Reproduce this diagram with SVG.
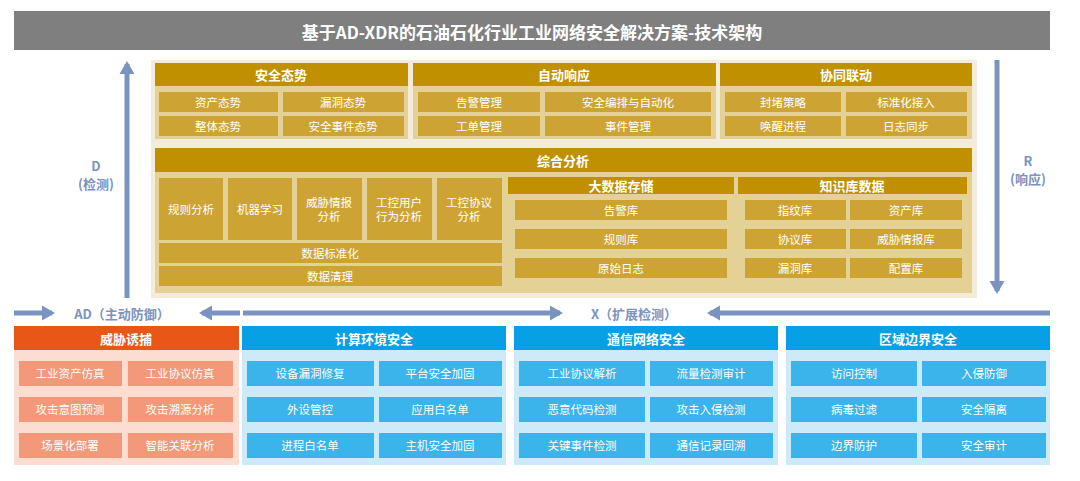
<svg xmlns="http://www.w3.org/2000/svg" width="1080" height="481" viewBox="0 0 1080 481">
<defs>
<style>
text{font-family:"Noto Sans CJK SC","Liberation Sans",sans-serif;text-anchor:middle;dominant-baseline:central;fill:#fff}
.h{fill:#c09000}.i{fill:#cda434}.s{fill:#e3d196}
.ht{font-size:13px;font-weight:bold}.it{font-size:11.5px}
.oh{fill:#e85618}.ob{fill:#fbddd2}.oi{fill:#f39878}
.bh{fill:#07a0e4}.bb{fill:#cdeaf9}.bi{fill:#3ab4ea}
.lab{fill:#7b93c0;font-size:13px;font-weight:bold}
.ar{stroke:#7b93c0;stroke-width:5;fill:none}
</style>
<marker id="a" markerWidth="4" markerHeight="4" refX="2" refY="2" orient="auto" markerUnits="strokeWidth"><path d="M0,0.5L2.6,2L0,3.5z" fill="#7b93c0"/></marker>
</defs>
<rect width="1080" height="481" fill="#fff"/>
<g id="title"><rect x="14" y="11" width="1036" height="39" fill="#7f7f7f"/><text x="532" y="31" style="font-size:17px;font-weight:bold">基于AD-XDR的石油石化行业工业网络安全解决方案-技术架构</text></g>
<rect x="151" y="60" width="826" height="238" fill="#f4ecdb"/>
<g id="aqts"><rect class="h" x="155" y="63" width="253" height="23"/><text class="ht" x="281" y="74">安全态势</text><rect class="s" x="155" y="86" width="253" height="53"/>
<rect class="i" x="159" y="92" width="119" height="20"/><text class="it" x="218" y="102">资产态势</text>
<rect class="i" x="283" y="92" width="121" height="20"/><text class="it" x="343" y="102">漏洞态势</text>
<rect class="i" x="159" y="116" width="119" height="20"/><text class="it" x="218" y="126">整体态势</text>
<rect class="i" x="283" y="116" width="121" height="20"/><text class="it" x="343" y="126">安全事件态势</text></g>
<g id="zdxy"><rect class="h" x="413" y="63" width="303" height="23"/><text class="ht" x="564" y="74">自动响应</text><rect class="s" x="413" y="86" width="303" height="53"/>
<rect class="i" x="418" y="92" width="122" height="20"/><text class="it" x="479" y="102">告警管理</text>
<rect class="i" x="545" y="92" width="166" height="20"/><text class="it" x="628" y="102">安全编排与自动化</text>
<rect class="i" x="418" y="116" width="122" height="20"/><text class="it" x="479" y="126">工单管理</text>
<rect class="i" x="545" y="116" width="166" height="20"/><text class="it" x="628" y="126">事件管理</text></g>
<g id="xtld"><rect class="h" x="720" y="63" width="252" height="23"/><text class="ht" x="846" y="74">协同联动</text><rect class="s" x="720" y="86" width="252" height="53"/>
<rect class="i" x="725" y="92" width="116" height="20"/><text class="it" x="783" y="102">封堵策略</text>
<rect class="i" x="846" y="92" width="121" height="20"/><text class="it" x="906" y="102">标准化接入</text>
<rect class="i" x="725" y="116" width="116" height="20"/><text class="it" x="783" y="126">唤醒进程</text>
<rect class="i" x="846" y="116" width="121" height="20"/><text class="it" x="906" y="126">日志同步</text></g>
<g id="zhfx"><rect class="h" x="155" y="148" width="817" height="24"/><text class="ht" x="563" y="160">综合分析</text><rect class="s" x="155" y="172" width="817" height="121"/>
<rect class="i" x="159" y="178" width="64" height="62"/><text class="it" x="191" y="209">规则分析</text>
<rect class="i" x="228" y="178" width="64" height="62"/><text class="it" x="260" y="209">机器学习</text>
<rect class="i" x="297" y="178" width="65" height="62"/><text class="it" x="329" y="202">威胁情报</text><text class="it" x="329" y="216">分析</text>
<rect class="i" x="367" y="178" width="65" height="62"/><text class="it" x="399" y="202">工控用户</text><text class="it" x="399" y="216">行为分析</text>
<rect class="i" x="437" y="178" width="65" height="62"/><text class="it" x="469" y="202">工控协议</text><text class="it" x="469" y="216">分析</text>
<rect class="i" x="159" y="243" width="343" height="20"/><text class="it" x="330" y="253">数据标准化</text>
<rect class="i" x="159" y="266" width="343" height="20"/><text class="it" x="330" y="276">数据清理</text></g>
<g id="dsj"><rect class="h" x="508" y="177" width="226" height="17"/><text class="ht" x="621" y="185">大数据存储</text>
<rect class="i" x="515" y="200" width="212" height="20"/><text class="it" x="621" y="210">告警库</text>
<rect class="i" x="515" y="229" width="212" height="20"/><text class="it" x="621" y="239">规则库</text>
<rect class="i" x="515" y="258" width="212" height="20"/><text class="it" x="621" y="268">原始日志</text></g>
<g id="zsk"><rect class="h" x="738" y="177" width="229" height="17"/><text class="ht" x="852" y="185">知识库数据</text>
<rect class="i" x="745" y="200" width="101" height="20"/><text class="it" x="795" y="210">指纹库</text>
<rect class="i" x="850" y="200" width="112" height="20"/><text class="it" x="906" y="210">资产库</text>
<rect class="i" x="745" y="229" width="101" height="20"/><text class="it" x="795" y="239">协议库</text>
<rect class="i" x="850" y="229" width="112" height="20"/><text class="it" x="906" y="239">威胁情报库</text>
<rect class="i" x="745" y="258" width="101" height="20"/><text class="it" x="795" y="268">漏洞库</text>
<rect class="i" x="850" y="258" width="112" height="20"/><text class="it" x="906" y="268">配置库</text></g>
<g id="connectors">
<line class="ar" x1="127" y1="298" x2="127" y2="64" marker-end="url(#a)"/>
<line class="ar" x1="997" y1="60" x2="997" y2="291" marker-end="url(#a)"/>
<line class="ar" x1="14" y1="313" x2="52" y2="313" marker-end="url(#a)"/>
<line class="ar" x1="240" y1="313" x2="202" y2="313" marker-end="url(#a)"/>
<line class="ar" x1="243" y1="313" x2="560" y2="313" marker-end="url(#a)"/>
<line class="ar" x1="1050" y1="313" x2="710" y2="313" marker-end="url(#a)"/>
</g>
<g id="labels">
<text class="lab" x="96" y="165">D</text><text class="lab" x="96" y="183">(检测)</text>
<text class="lab" x="1028" y="160">R</text><text class="lab" x="1028" y="178">(响应)</text>
<text class="lab" x="122" y="313">AD（主动防御）</text>
<text class="lab" x="634" y="313">X（扩展检测）</text>
</g>
<g id="wxyb"><rect class="oh" x="14" y="326" width="225" height="24"/><text class="ht" x="126" y="338">威胁诱捕</text><rect class="ob" x="14" y="350" width="225" height="115"/>
<rect class="oi" x="19" y="361" width="103" height="25"/><text class="it" x="70" y="373">工业资产仿真</text>
<rect class="oi" x="128" y="361" width="105" height="25"/><text class="it" x="180" y="373">工业协议仿真</text>
<rect class="oi" x="19" y="397" width="103" height="25"/><text class="it" x="70" y="409">攻击意图预测</text>
<rect class="oi" x="128" y="397" width="105" height="25"/><text class="it" x="180" y="409">攻击溯源分析</text>
<rect class="oi" x="19" y="433" width="103" height="25"/><text class="it" x="70" y="445">场景化部署</text>
<rect class="oi" x="128" y="433" width="105" height="25"/><text class="it" x="180" y="445">智能关联分析</text></g>
<g id="jshj"><rect class="bh" x="242" y="326" width="264" height="24"/><text class="ht" x="374" y="338">计算环境安全</text><rect class="bb" x="242" y="350" width="264" height="115"/>
<rect class="bi" x="247" y="361" width="127" height="25"/><text class="it" x="310" y="373">设备漏洞修复</text>
<rect class="bi" x="379" y="361" width="123" height="25"/><text class="it" x="440" y="373">平台安全加固</text>
<rect class="bi" x="247" y="397" width="127" height="25"/><text class="it" x="310" y="409">外设管控</text>
<rect class="bi" x="379" y="397" width="123" height="25"/><text class="it" x="440" y="409">应用白名单</text>
<rect class="bi" x="247" y="433" width="127" height="25"/><text class="it" x="310" y="445">进程白名单</text>
<rect class="bi" x="379" y="433" width="123" height="25"/><text class="it" x="440" y="445">主机安全加固</text></g>
<g id="txwl"><rect class="bh" x="514" y="326" width="264" height="24"/><text class="ht" x="646" y="338">通信网络安全</text><rect class="bb" x="514" y="350" width="264" height="115"/>
<rect class="bi" x="519" y="361" width="126" height="25"/><text class="it" x="582" y="373">工业协议解析</text>
<rect class="bi" x="650" y="361" width="123" height="25"/><text class="it" x="711" y="373">流量检测审计</text>
<rect class="bi" x="519" y="397" width="126" height="25"/><text class="it" x="582" y="409">恶意代码检测</text>
<rect class="bi" x="650" y="397" width="123" height="25"/><text class="it" x="711" y="409">攻击入侵检测</text>
<rect class="bi" x="519" y="433" width="126" height="25"/><text class="it" x="582" y="445">关键事件检测</text>
<rect class="bi" x="650" y="433" width="123" height="25"/><text class="it" x="711" y="445">通信记录回溯</text></g>
<g id="qybj"><rect class="bh" x="786" y="326" width="264" height="24"/><text class="ht" x="918" y="338">区域边界安全</text><rect class="bb" x="786" y="350" width="264" height="115"/>
<rect class="bi" x="791" y="361" width="126" height="25"/><text class="it" x="854" y="373">访问控制</text>
<rect class="bi" x="922" y="361" width="124" height="25"/><text class="it" x="984" y="373">入侵防御</text>
<rect class="bi" x="791" y="397" width="126" height="25"/><text class="it" x="854" y="409">病毒过滤</text>
<rect class="bi" x="922" y="397" width="124" height="25"/><text class="it" x="984" y="409">安全隔离</text>
<rect class="bi" x="791" y="433" width="126" height="25"/><text class="it" x="854" y="445">边界防护</text>
<rect class="bi" x="922" y="433" width="124" height="25"/><text class="it" x="984" y="445">安全审计</text></g>
</svg>
